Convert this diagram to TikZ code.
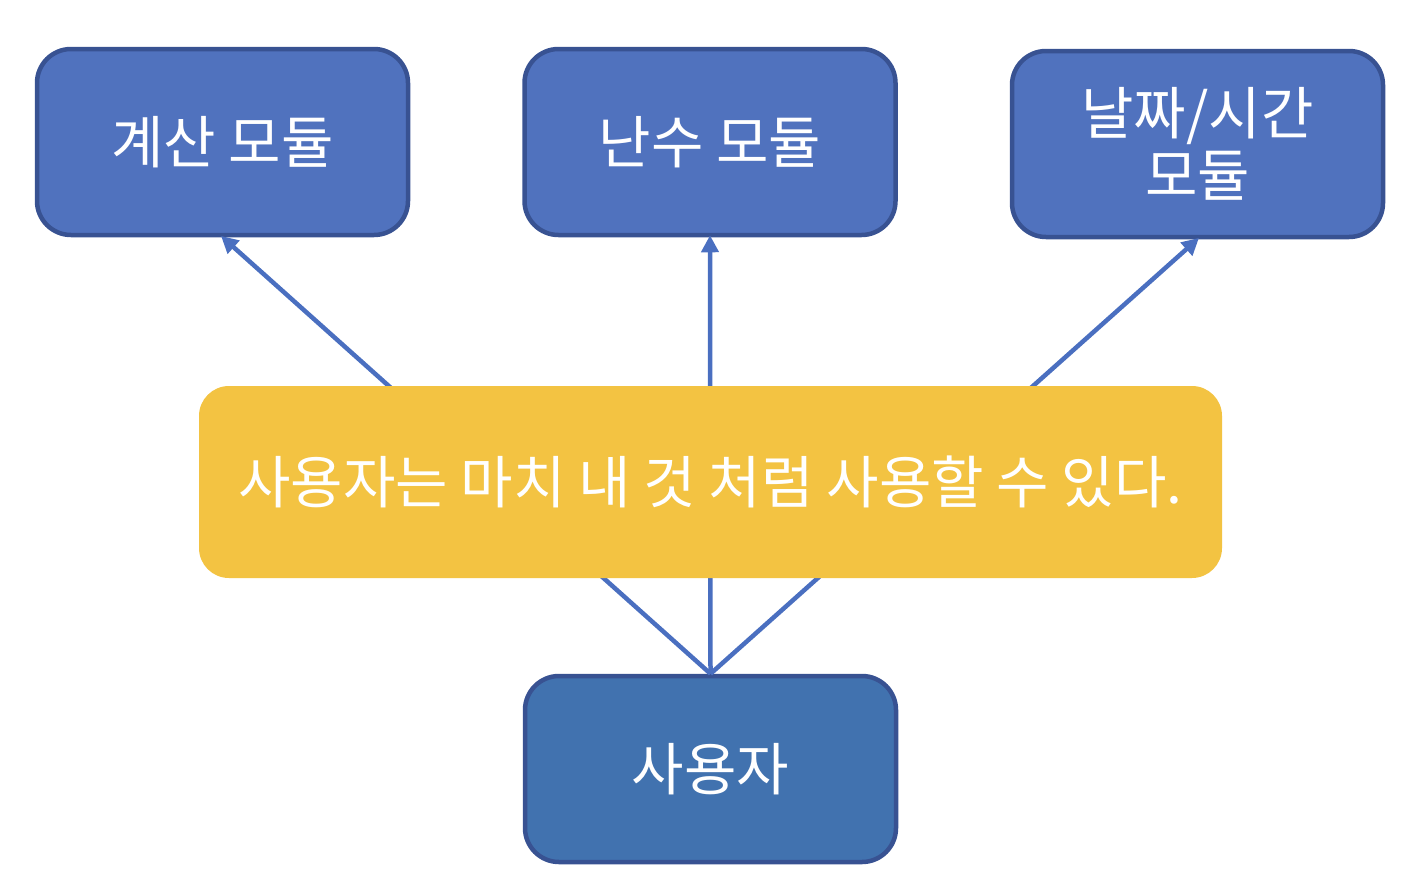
\documentclass[tikz,border=0pt]{standalone}
\usepackage{fontspec}
\setmainfont{Noto Sans CJK KR}
\usetikzlibrary{arrows.meta}
\definecolor{boxfill}{HTML}{5072BE}
\definecolor{boxline}{HTML}{385292}
\definecolor{userfill}{HTML}{4172AF}
\definecolor{arrowc}{HTML}{4A6FC0}
\definecolor{yel}{HTML}{F3C342}
\tikzset{
  modbox/.style={draw=boxline, line width=4.5pt, fill=boxfill, rounded corners=34pt, text=white,
    minimum width=371pt, minimum height=186pt, align=center, inner sep=0pt,
    font=\fontsize{57}{62}\selectfont},
  userbox/.style={modbox, fill=userfill},
  notebox/.style={fill=yel, rounded corners=30pt, text=white, minimum width=1023pt, minimum height=192pt,
    inner sep=0pt, font=\fontsize{57}{62}\selectfont},
  conn/.style={draw=arrowc, line width=4.5pt},
  arr/.style={conn, -{Triangle[length=17pt,width=17pt]}, shorten >=-2pt}
}
\begin{document}
\begin{tikzpicture}[x=1pt,y=-1pt]
\useasboundingbox (0,0) rectangle (1416,884);
\node[modbox] (calc) at (222.5,142) {계산 모듈};
\node[modbox] (rand) at (710,142) {난수 모듈};
\node[modbox] (date) at (1197.5,144) {날짜/시간\\모듈};
\node[userbox] (user) at (710.5,769) {사용자};
\draw[arr] (user.north) -- (calc.south);
\draw[arr] (user.north) -- (rand.south);
\draw[arr] (user.north) -- (date.south);
\node[notebox] (note) at (710.5,482) {사용자는 마치 내 것 처럼 사용할 수 있다.};
\end{tikzpicture}
\end{document}
